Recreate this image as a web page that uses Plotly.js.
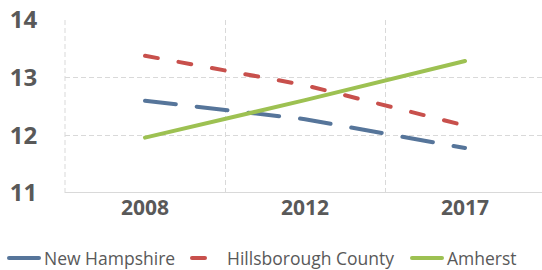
<!DOCTYPE html>
<html>
<head>
<meta charset="utf-8">
<script src="https://cdn.plot.ly/plotly-3.0.1.min.js"></script>
<style>
html,body{margin:0;padding:0;background:#fff;}
#chart{width:542px;height:270px;}
path.js-line{stroke-linecap:round !important;}
</style>
</head>
<body>
<div id="chart"></div>
<script>
var years = ['2008', '2012', '2017'];
var newHampshire = [12.60, 12.28, 11.78];
var hillsborough = [13.38, 12.87, 12.17];
var amherst = [11.96, 12.61, 13.29];
var yTicks = [11, 12, 13, 14];

var traces = [
  {x: years, y: newHampshire, name: 'New Hampshire', type: 'scatter', mode: 'lines',
   legend: 'legend', line: {color: '#56759a', width: 4, dash: '31px,21px'}},
  {x: years, y: hillsborough, name: 'Hillsborough County', type: 'scatter', mode: 'lines',
   legend: 'legend2', line: {color: '#c8504c', width: 4, dash: '13px,21px'}},
  {x: years, y: amherst, name: 'Amherst', type: 'scatter', mode: 'lines',
   legend: 'legend3', line: {color: '#9dc152', width: 4}}
];

function legendAt(px) {
  return {orientation: 'h', x: px / 542, xref: 'container', xanchor: 'left',
          y: 12 / 270, yref: 'container', yanchor: 'middle',
          bgcolor: 'rgba(0,0,0,0)',
          font: {family: 'Open Sans', size: 17.5, color: '#595959'},
          itemwidth: 30, tracegroupgap: 0};
}

var layout = {
  width: 542, height: 270,
  margin: {l: 65, r: 0, t: 20, b: 77},
  paper_bgcolor: '#fff', plot_bgcolor: '#fff',
  showlegend: true,
  legend: legendAt(4),
  legend2: legendAt(187),
  legend3: legendAt(407),
  xaxis: {type: 'category', range: [-0.5, 2.481], tickson: 'boundaries',
          showgrid: true, griddash: '5px,3px', gridcolor: '#d9d9d9', gridwidth: 1,
          showline: false, zeroline: false,
          ticks: 'outside', ticklen: 17, tickcolor: 'rgba(0,0,0,0)',
          tickfont: {family: 'Open Sans', size: 21, color: '#595959', weight: 'bold'},
          fixedrange: true},
  yaxis: {range: [11, 14], tickvals: yTicks, ticktext: yTicks.map(String),
          showgrid: true, griddash: '5px,3px', gridcolor: '#d9d9d9', gridwidth: 1,
          zeroline: false, showline: false,
          ticks: 'outside', ticklen: 22, tickcolor: 'rgba(0,0,0,0)',
          tickfont: {family: 'Open Sans', size: 24, color: '#595959', weight: 'bold'},
          fixedrange: true},
  shapes: [
    {type: 'line', xref: 'paper', yref: 'paper', x0: 0, x1: 0, y0: 0, y1: 1, layer: 'below',
     line: {color: '#d9d9d9', width: 1, dash: '5px,3px'}},
    {type: 'line', xref: 'paper', yref: 'y', x0: 0, x1: 1, y0: 11, y1: 11,
     line: {color: '#d9d9d9', width: 2}}
  ]
};

Plotly.newPlot('chart', traces, layout, {displayModeBar: false, staticPlot: true});
</script>
</body>
</html>
